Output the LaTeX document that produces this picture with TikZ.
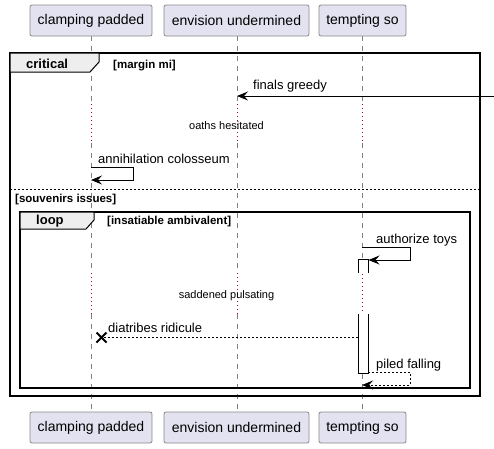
\documentclass[tikz,border=0pt]{standalone}
\usepackage{fontspec}
\setmainfont{Liberation Sans}
\usetikzlibrary{arrows.meta}
\definecolor{partfill}{HTML}{E2E2F0}
\definecolor{partdraw}{HTML}{8A8A8A}
\definecolor{tabfill}{HTML}{EEEEEE}
\definecolor{delaycol}{HTML}{A80036}
\tikzset{
  part/.style={draw=partdraw, fill=partfill, rounded corners=2pt, line width=0.8pt, minimum height=31pt, inner sep=0pt, font=\fontsize{14}{16}\selectfont},
  lifeline/.style={draw=gray, line width=0.7pt, dash pattern=on 5pt off 5pt},
  delayline/.style={draw=delaycol, line width=0.9pt, dash pattern=on 1pt off 3pt},
  msg/.style={draw=black, line width=1pt, -{Stealth[length=11pt,width=9pt,inset=4pt]}},
  retmsg/.style={msg, dash pattern=on 2pt off 2pt},
  msgtxt/.style={anchor=base west, inner sep=0pt, font=\fontsize{13}{15}\selectfont},
  frame/.style={draw=black, line width=1.6pt},
  tab/.style={draw=black, line width=1pt, fill=tabfill},
  tabtxt/.style={anchor=base west, inner sep=0pt, font=\fontsize{13}{15}\selectfont\bfseries},
  condtxt/.style={anchor=base west, inner sep=0pt, font=\fontsize{11.5}{13}\selectfont\bfseries},
  delaytxt/.style={anchor=base, inner sep=0pt, font=\fontsize{11}{13}\selectfont},
  actbox/.style={draw=black, line width=1pt, fill=white}
}
\begin{document}
\begin{tikzpicture}[x=1pt,y=-1pt]
\useasboundingbox[fill=white] (0,0) rectangle (494,448);
% lifelines
\foreach \x/\n in {91/a,237/b,362/c}{
  \coordinate (\n top) at (\x,36);
  \coordinate (\n d1s) at (\x,104);
  \coordinate (\n d1e) at (\x,143);
  \coordinate (\n d2s) at (\x,273);
  \coordinate (\n d2e) at (\x,314);
  \coordinate (\n bot) at (\x,412);
  \draw[lifeline] (\n top) -- (\n d1s);
  \draw[delayline] (\n d1s) -- (\n d1e);
  \draw[lifeline] (\n d1e) -- (\n d2s);
  \draw[delayline] (\n d2s) -- (\n d2e);
  \draw[lifeline] (\n d2e) -- (\n bot);
}
% participants
\node[part, minimum width=122pt] (pa) at (91,20.5) {clamping padded};
\node[part, minimum width=145pt] (pb) at (236.5,20.5) {envision undermined};
\node[part, minimum width=87pt] (pc) at (362.5,20.5) {tempting so};
\node[part, minimum width=122pt] (pa2) at (91,427.5) {clamping padded};
\node[part, minimum width=145pt] (pb2) at (236.5,427.5) {envision undermined};
\node[part, minimum width=87pt] (pc2) at (362.5,427.5) {tempting so};

% critical frame
\draw[frame] (10,53) rectangle (480,396);
\draw[tab] (10,53) -- (99,53) -- (99,62) -- (90,72) -- (10,72) -- cycle;
\node[tabtxt] (crit) at (26,68) {critical};
\node[condtxt] (critc) at (113,68) {[margin mi]};

% finals greedy
\coordinate (fgs) at (494,96);
\coordinate (fge) at (237,96);
\draw[msg] (fgs) -- (fge);
\node[msgtxt] (fgt) at (253,89) {finals greedy};

% delay 1
\node[delaytxt] (d1) at (226.5,129) {oaths hesitated};

% annihilation colosseum
\coordinate (ac1) at (91,167);
\coordinate (ac2) at (133,167);
\coordinate (ac3) at (133,180);
\coordinate (ac4) at (91,180);
\draw[msg] (ac1) -- (ac2) -- (ac3) -- (ac4);
\node[msgtxt] (act) at (98,163) {annihilation colosseum};

% separator
\coordinate (sepl) at (10,189);
\coordinate (sepr) at (480,189);
\draw[black, line width=0.8pt, dash pattern=on 2pt off 2pt] (sepl) -- (sepr);
\node[condtxt] (souv) at (15,202) {[souvenirs issues]};

% loop frame
\draw[frame] (20,212) rectangle (470,388);
\draw[tab] (20,212) -- (94,212) -- (94,220) -- (86,229) -- (20,229) -- cycle;
\node[tabtxt] (loopt) at (36,224) {loop};
\node[condtxt] (loopc) at (107,224) {[insatiable ambivalent]};

% activation box
\fill[white] (358,259) rectangle (368,373);
\draw[black, line width=1pt] (358,273) -- (358,259) -- (368,259) -- (368,273);
\draw[black, line width=1pt] (358,314) -- (358,373) -- (368,373) -- (368,314);
\draw[delayline] (362,274) -- (362,313);

% authorize toys
\coordinate (at1) at (362,247);
\coordinate (at2) at (410,247);
\coordinate (at3) at (410,260);
\coordinate (at4) at (368.5,260);
\draw[msg] (at1) -- (at2) -- (at3) -- (at4);
\node[msgtxt] (att) at (376,243) {authorize toys};

% delay 2
\node[delaytxt] (d2) at (226.5,298) {saddened pulsating};

% diatribes ridicule
\coordinate (drs) at (358,337.5);
\coordinate (dre) at (101.5,337.5);
\draw[black, line width=1pt, dash pattern=on 2pt off 2pt] (drs) -- (dre);
\draw[black, line width=2pt] (96.5,332.5) -- (106.5,342.5) (96.5,342.5) -- (106.5,332.5);
\node[msgtxt] (drt) at (108,332) {diatribes ridicule};

% piled falling
\coordinate (pf1) at (368,372);
\coordinate (pf2) at (410,372);
\coordinate (pf3) at (410,385);
\coordinate (pf4) at (362,385);
\draw[retmsg] (pf1) -- (pf2) -- (pf3) -- (pf4);
\node[msgtxt] (pft) at (376,368) {piled falling};
\end{tikzpicture}
\end{document}
